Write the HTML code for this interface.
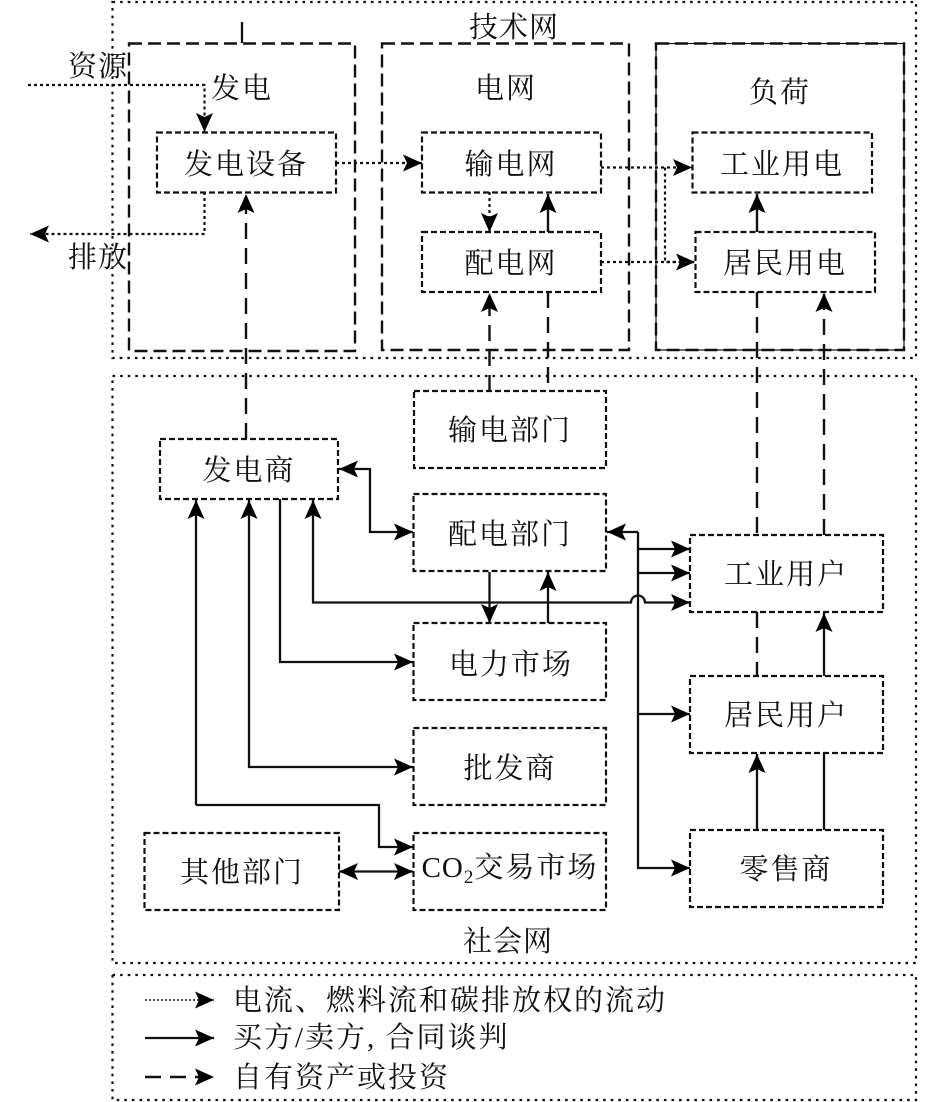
<!DOCTYPE html>
<html lang="zh">
<head>
<meta charset="utf-8">
<style>
html,body{margin:0;padding:0;background:#fff}
svg{display:block}
text{font-family:"Liberation Serif","Noto Serif CJK SC",serif;font-size:29px;fill:#111;text-anchor:middle}
.outer{fill:none;stroke:#111;stroke-width:2.2;stroke-dasharray:2.6 5}
.big{fill:none;stroke:#111;stroke-width:2.4;stroke-dasharray:13 6}
.box{fill:none;stroke:#111;stroke-width:2.2;stroke-dasharray:6 3}
.dot{fill:none;stroke:#111;stroke-width:2.2;stroke-dasharray:3 3}
.sol{fill:none;stroke:#111;stroke-width:2.3}
.das{fill:none;stroke:#111;stroke-width:2.4;stroke-dasharray:16 9}
</style>
</head>
<body>
<svg width="945" height="1102" viewBox="0 0 945 1102" xmlns="http://www.w3.org/2000/svg">
<defs>
<marker id="a" markerUnits="userSpaceOnUse" markerWidth="19" markerHeight="18" viewBox="0 0 19 18" refX="19" refY="9" orient="auto-start-reverse">
<polygon points="0,0.5 19,9 0,17.5 4,9" fill="#000"/>
</marker>
</defs>

<!-- outer regions -->
<rect class="outer" x="112.5" y="2" width="803.5" height="356"/>
<rect class="outer" x="112.5" y="376" width="803.5" height="587"/>
<rect class="outer" x="112.5" y="975" width="803.5" height="125"/>

<!-- group boxes -->
<rect class="big" x="129" y="43.5" width="226" height="307.5"/>
<rect class="big" x="382" y="43.5" width="247" height="306.5"/>
<rect class="sol" x="656" y="43.5" width="248" height="306.5" style="stroke-width:1.2"/>
<rect class="big" x="656" y="43.5" width="248" height="306.5"/>
<path class="sol" d="M242 22V43"/>

<!-- connectors: long dashed -->
<path class="das" d="M246 439V194" marker-end="url(#a)"/>
<path class="das" d="M489.5 391V293" marker-end="url(#a)"/>
<path class="das" d="M548 292V391"/>
<path class="das" d="M548 232V194" style="stroke-dasharray:none" marker-end="url(#a)"/>
<path class="das" d="M757 232V194" style="stroke-dasharray:none" marker-end="url(#a)"/>
<path class="das" d="M757 292V535"/>
<path class="das" d="M824 535V293" marker-end="url(#a)"/>
<path class="das" d="M757 612V676"/>

<!-- dotted -->
<path class="dot" d="M28 85H204.5V132" marker-end="url(#a)"/>
<path class="dot" d="M204.5 192V234H30" marker-end="url(#a)"/>
<path class="dot" d="M336 163H422" marker-end="url(#a)"/>
<path class="dot" d="M489.5 192V232" marker-end="url(#a)"/>
<path class="dot" d="M601 167.5H692" marker-end="url(#a)"/>
<path class="dot" d="M601 262H695" marker-end="url(#a)"/>
<path class="dot" d="M665 167.5V262H695"/>

<!-- solid -->
<path class="sol" d="M339 469H370V532H413" marker-start="url(#a)" marker-end="url(#a)"/>
<path class="sol" d="M489.5 572V623" marker-end="url(#a)"/>
<path class="sol" d="M548 623V572" marker-end="url(#a)"/>
<path class="sol" d="M196 805V500" marker-end="url(#a)"/>
<path class="sol" d="M196 805H379V847H413" marker-end="url(#a)"/>
<path class="sol" d="M249 500V767H413" marker-start="url(#a)" marker-end="url(#a)"/>
<path class="sol" d="M280 499V662H413" marker-end="url(#a)"/>
<path class="sol" d="M313 500V602.5H631A7 7 0 0 1 645 602.5H690" marker-start="url(#a)" marker-end="url(#a)"/>
<path class="sol" d="M638 532H607" marker-end="url(#a)"/>
<path class="sol" d="M638 532V868H690" marker-end="url(#a)"/>
<path class="sol" d="M638 549H690" marker-end="url(#a)"/>
<path class="sol" d="M638 573H690" marker-end="url(#a)"/>
<path class="sol" d="M638 714H690" marker-end="url(#a)"/>
<path class="sol" d="M824 676V613" marker-end="url(#a)"/>
<path class="sol" d="M757 830V754" marker-end="url(#a)"/>
<path class="sol" d="M824 830V753"/>
<path class="sol" d="M339 871.5H413" marker-start="url(#a)" marker-end="url(#a)"/>

<!-- small boxes -->
<rect class="box" x="157" y="132.5" width="179" height="60"/>
<rect class="box" x="422" y="132.5" width="179" height="60"/>
<rect class="box" x="422" y="232" width="179" height="60"/>
<rect class="box" x="692.5" y="132.5" width="179.5" height="60"/>
<rect class="box" x="695.5" y="232" width="179.5" height="60"/>
<rect class="box" x="414" y="391" width="192" height="77"/>
<rect class="box" x="160" y="439" width="178" height="60"/>
<rect class="box" x="413.5" y="494" width="192.5" height="77"/>
<rect class="box" x="413.5" y="623" width="192.5" height="77"/>
<rect class="box" x="413.5" y="728" width="192.5" height="77"/>
<rect class="box" x="413.5" y="833" width="192.5" height="77"/>
<rect class="box" x="144.5" y="833" width="194.5" height="77"/>
<rect class="box" x="690" y="535" width="193" height="77"/>
<rect class="box" x="690" y="676" width="193" height="77"/>
<rect class="box" x="690" y="830" width="193" height="77"/>

<!-- labels -->
<text x="514" y="37" style="letter-spacing:1px">技术网</text>
<text x="98" y="76" style="letter-spacing:1px">资源</text>
<text x="98" y="267" style="letter-spacing:1px">排放</text>
<text x="242" y="98" style="letter-spacing:2px">发电</text>
<text x="506" y="98" style="letter-spacing:2px">电网</text>
<text x="780" y="102" style="letter-spacing:2px">负荷</text>
<text x="246" y="174" style="letter-spacing:2px">发电设备</text>
<text x="511" y="174" style="letter-spacing:2px">输电网</text>
<text x="511" y="273" style="letter-spacing:2px">配电网</text>
<text x="782" y="174" style="letter-spacing:2px">工业用电</text>
<text x="785" y="273" style="letter-spacing:2px">居民用电</text>
<text x="510" y="440" style="letter-spacing:2px">输电部门</text>
<text x="249" y="480" style="letter-spacing:2px">发电商</text>
<text x="510" y="544" style="letter-spacing:2px">配电部门</text>
<text x="511" y="674" style="letter-spacing:2px">电力市场</text>
<text x="510" y="778" style="letter-spacing:2px">批发商</text>
<text x="510" y="877" style="letter-spacing:1px">CO<tspan dy="6" style="font-size:19px">2</tspan><tspan dy="-6" style="letter-spacing:2px">交易市场</tspan></text>
<text x="242" y="882" style="letter-spacing:2px">其他部门</text>
<text x="786" y="584" style="letter-spacing:2px">工业用户</text>
<text x="786" y="725" style="letter-spacing:2px">居民用户</text>
<text x="786" y="879" style="letter-spacing:2px">零售商</text>
<text x="508" y="951" style="letter-spacing:1px">社会网</text>

<!-- legend -->
<path class="dot" d="M145 1000H214" style="stroke-width:1.6;stroke-dasharray:2 2" marker-end="url(#a)"/>
<path class="sol" d="M145 1038H214" marker-end="url(#a)"/>
<path class="das" d="M145 1077H214" marker-end="url(#a)"/>
<text x="233" y="1010" style="text-anchor:start;letter-spacing:2px">电流、燃料流和碳排放权的流动</text>
<text x="233" y="1047" style="text-anchor:start;letter-spacing:2px">买方/卖方, 合同谈判</text>
<text x="233" y="1087" style="text-anchor:start;letter-spacing:2px">自有资产或投资</text>
</svg>
</body>
</html>
